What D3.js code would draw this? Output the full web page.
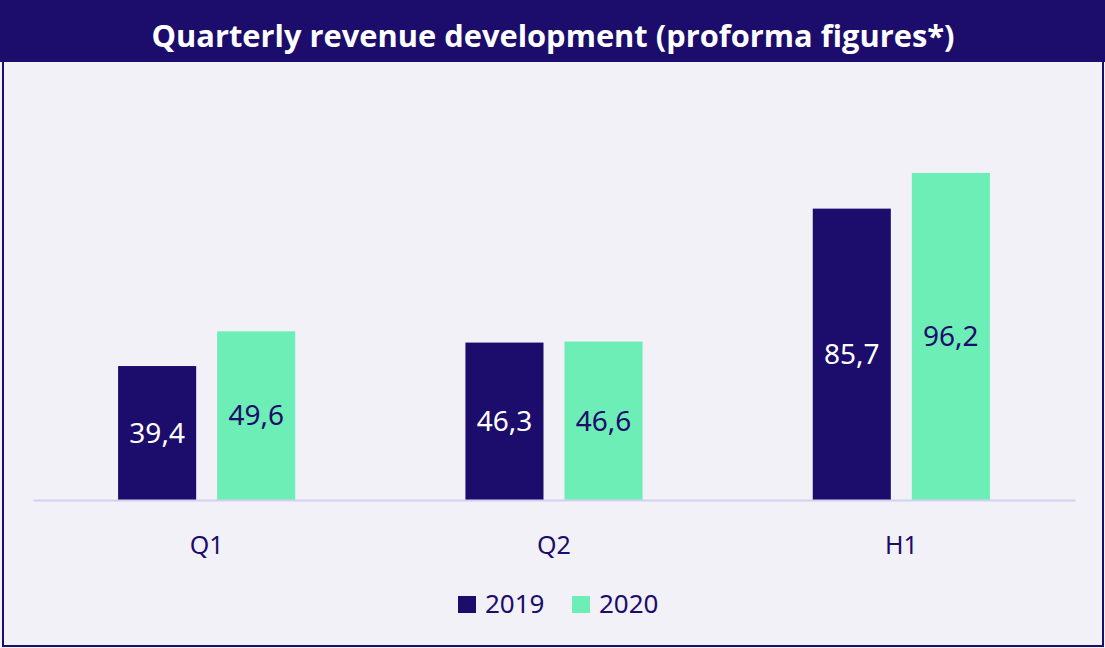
<!DOCTYPE html>
<html>
<head>
<meta charset="utf-8">
<script src="https://cdn.jsdelivr.net/npm/d3@7"></script>
<style>
  html, body { margin: 0; padding: 0; background: #fff; }
  svg { display: block; }
</style>
</head>
<body>
<svg id="chart" width="1105" height="648"></svg>
<script>
var categories = ['Q1', 'Q2', 'H1'];
var seriesNames = ['2019', '2020'];
var values2019 = [39.4, 46.3, 85.7];
var values2020 = [49.6, 46.6, 96.2];

var navy = '#1C0C6B',
    green = '#6CEEB6',
    bg = '#F2F1F7',
    axisColor = '#D3CFF1';

var width = 1105, height = 648;
var svg = d3.select('#chart');

// frame + title bar
svg.append('rect')
    .attr('x', 0).attr('y', 0).attr('width', width).attr('height', height)
    .attr('fill', bg);
svg.append('rect')
    .attr('x', 3).attr('y', 1).attr('width', 1100).attr('height', 645)
    .attr('fill', 'none').attr('stroke', navy).attr('stroke-width', 2);
svg.append('rect')
    .attr('x', 0).attr('y', 0).attr('width', width).attr('height', 62)
    .attr('fill', navy);
svg.append('text')
    .attr('x', 553).attr('y', 47)
    .attr('text-anchor', 'middle')
    .attr('fill', '#fff')
    .style('font-family', '"Open Sans", sans-serif')
    .style('font-weight', 'bold')
    .style('font-size', '31px')
    .attr('textLength', 803)
    .attr('lengthAdjust', 'spacingAndGlyphs')
    .text('Quarterly revenue development (proforma figures*)');

// scales
var baseY = 500;
var x0 = d3.scaleBand()
    .domain(categories)
    .range([33, 1075])
    .paddingInner(0.49)
    .paddingOuter(0.245);
var x1 = d3.scaleBand()
    .domain(seriesNames)
    .range([0, x0.bandwidth()])
    .paddingInner(0.212);
var y = d3.scaleLinear()
    .domain([0, 100])
    .range([baseY, baseY - 340]);

var rows = categories.map(function (c, i) {
    return [
        { cat: c, key: '2019', value: values2019[i] },
        { cat: c, key: '2020', value: values2020[i] }
    ];
});
var color = d3.scaleOrdinal().domain(seriesNames).range([navy, green]);
var labelColor = d3.scaleOrdinal().domain(seriesNames).range(['#fff', navy]);

var fmt = function (v) { return d3.format('.1f')(v).replace('.', ','); };

var groups = svg.append('g').selectAll('g')
    .data(rows)
    .enter().append('g')
    .attr('transform', function (d) { return 'translate(' + x0(d[0].cat) + ',0)'; });

groups.selectAll('rect')
    .data(function (d) { return d; })
    .enter().append('rect')
    .attr('x', function (d) { return x1(d.key); })
    .attr('y', function (d) { return y(d.value); })
    .attr('width', x1.bandwidth())
    .attr('height', function (d) { return baseY - y(d.value); })
    .attr('fill', function (d) { return color(d.key); });

groups.selectAll('text')
    .data(function (d) { return d; })
    .enter().append('text')
    .attr('x', function (d) { return x1(d.key) + x1.bandwidth() / 2; })
    .attr('y', function (d) { return (y(d.value) + baseY) / 2; })
    .attr('dy', '0.35em')
    .attr('text-anchor', 'middle')
    .attr('fill', function (d) { return labelColor(d.key); })
    .style('font-family', '"Noto Sans", sans-serif')
    .style('font-size', '28px')
    .text(function (d) { return fmt(d.value); });

// baseline + category labels
var xAxis = d3.axisBottom(x0).tickSize(0).tickPadding(36);
var ax = svg.append('g')
    .attr('transform', 'translate(0,' + baseY + ')')
    .call(xAxis);
ax.select('.domain')
    .attr('stroke', axisColor).attr('stroke-width', 2);
ax.selectAll('text')
    .attr('fill', navy)
    .style('font-family', '"Noto Sans", sans-serif')
    .style('font-size', '25px');

// legend
var legendX = [458, 572];
var legend = svg.append('g').selectAll('g')
    .data(seriesNames)
    .enter().append('g')
    .attr('transform', function (d, i) { return 'translate(' + legendX[i] + ',596)'; });
legend.append('rect')
    .attr('width', 18).attr('height', 17)
    .attr('fill', function (d) { return color(d); });
legend.append('text')
    .attr('x', 27).attr('y', 17)
    .attr('fill', navy)
    .style('font-family', '"Noto Sans", sans-serif')
    .style('font-size', '26px')
    .text(function (d) { return d; });
</script>
</body>
</html>
